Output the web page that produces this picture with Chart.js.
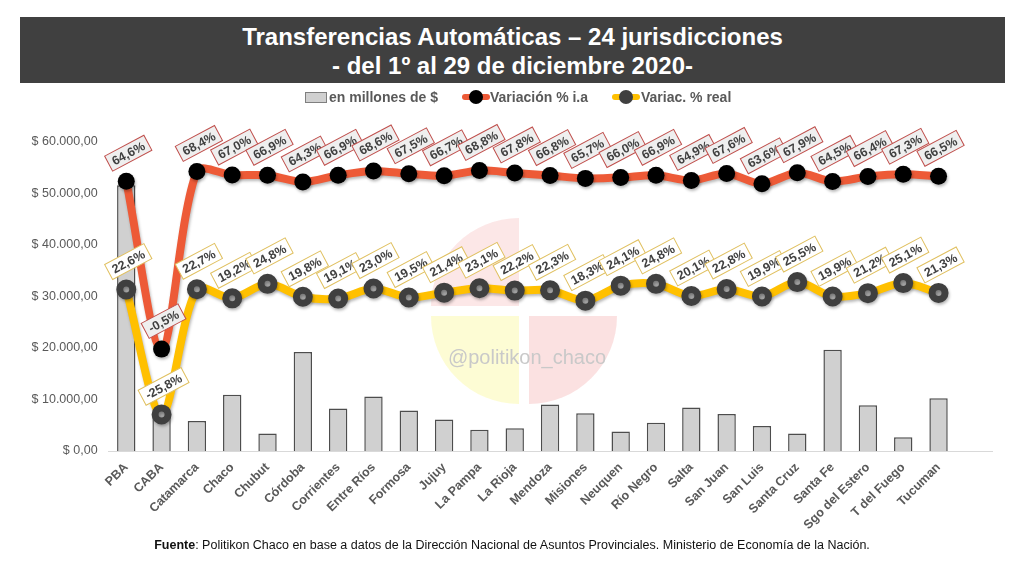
<!DOCTYPE html>
<html><head><meta charset="utf-8">
<script src="https://cdn.jsdelivr.net/npm/chart.js@4.4.0/dist/chart.umd.min.js"></script>
<style>
html,body{margin:0;padding:0;background:#fff;}
#wrap{position:relative;width:1024px;height:576px;overflow:hidden;font-family:"Liberation Sans",Arial,sans-serif;background:#fff;}
#c{position:absolute;left:0;top:0;}
#band{position:absolute;left:20px;top:17px;width:985px;height:66px;background:#404040;}
#title{position:absolute;left:20px;top:22px;width:985px;text-align:center;color:#fff;font-weight:bold;font-size:24px;line-height:29px;}
.lg{position:absolute;top:89px;height:16px;line-height:16px;font-weight:bold;font-size:14px;color:#595959;white-space:nowrap;}
.sw-bar{position:absolute;top:92px;left:305px;width:20px;height:9px;background:#d0d0d0;border:1px solid #7f7f7f;}
.sw-line{position:absolute;top:89px;width:28px;height:16px;}
.sw-line .ln{position:absolute;left:0;top:5px;width:28px;height:6px;border-radius:3px;}
.sw-line .dt{position:absolute;left:7px;top:1px;width:14px;height:14px;border-radius:50%;}
#footer{position:absolute;top:538px;left:0;width:1024px;text-align:center;font-size:12.5px;color:#111;}
</style></head>
<body>
<div id="wrap">
  <div id="band"></div>
  <div id="title">Transferencias Automáticas – 24 jurisdicciones<br>- del 1º al 29 de diciembre 2020-</div>
  <canvas id="c" width="1024" height="576"></canvas>
  <div class="sw-bar"></div><span class="lg" style="left:329px">en millones de $</span>
  <div class="sw-line" style="left:462px"><div class="ln" style="background:#ed5a37"></div><div class="dt" style="background:#000"></div></div><span class="lg" style="left:490px">Variación % i.a</span>
  <div class="sw-line" style="left:612px"><div class="ln" style="background:#ffc000"></div><div class="dt" style="background:#404040"></div></div><span class="lg" style="left:641px">Variac. % real</span>
  <div id="footer"><b>Fuente</b>: Politikon Chaco en base a datos de la Dirección Nacional de Asuntos Provinciales. Ministerio de Economía de la Nación.</div>
</div>
<script>
const categories = ["PBA","CABA","Catamarca","Chaco","Chubut","Córdoba","Corrientes","Entre Ríos","Formosa","Jujuy","La Pampa","La Rioja","Mendoza","Misiones","Neuquen","Río Negro","Salta","San Juan","San Luis","Santa Cruz","Santa Fe","Sgo del Estero","T del Fuego","Tucuman"];
const transfers = [51500,6500,5800,10900,3400,19200,8250,10550,7850,6100,4100,4400,9000,7300,3800,5500,8450,7150,4850,3400,19650,8850,2650,10250];
const nominalVar = [64.6,-0.5,68.4,67.0,66.9,64.3,66.9,68.6,67.5,66.7,68.8,67.8,66.8,65.7,66.0,66.9,64.9,67.6,63.6,67.9,64.5,66.4,67.3,66.5];
const realVar = [22.6,-25.8,22.7,19.2,24.8,19.8,19.1,23.0,19.5,21.4,23.1,22.2,22.3,18.3,24.1,24.8,20.1,22.8,19.9,25.5,19.9,21.2,25.1,21.3];
const yTickValues = [0,10000,20000,30000,40000,50000,60000];

function fmtMoney(v){
  const s = Math.round(v).toString().replace(/\B(?=(\d{3})+(?!\d))/g,'.');
  return '$ ' + s + ',00';
}
function fmtPct(v){ return v.toFixed(1).replace('.',',') + '%'; }

const watermark = {
  id:'watermark',
  beforeDatasetsDraw(chart){
    const ctx = chart.ctx; ctx.save();
    const R = 88;
    ctx.fillStyle = 'rgba(250,215,215,0.6)';
    ctx.beginPath(); ctx.moveTo(519,306); ctx.arc(519,306,R,Math.PI,1.5*Math.PI); ctx.closePath(); ctx.fill();
    ctx.fillStyle = 'rgba(253,251,205,0.85)';
    ctx.beginPath(); ctx.moveTo(519,316); ctx.arc(519,316,R,0.5*Math.PI,Math.PI); ctx.closePath(); ctx.fill();
    ctx.fillStyle = 'rgba(250,215,215,0.75)';
    ctx.beginPath(); ctx.moveTo(529,316); ctx.arc(529,316,R,0,0.5*Math.PI); ctx.closePath(); ctx.fill();
    ctx.fillStyle = '#c9c9c9';
    ctx.font = '20px "Liberation Sans", Arial, sans-serif';
    ctx.textAlign = 'center'; ctx.textBaseline = 'middle';
    ctx.fillText('@politikon_chaco', 527, 358);
    const a = chart.chartArea;
    ctx.strokeStyle = '#d9d9d9'; ctx.lineWidth = 1;
    ctx.beginPath(); ctx.moveTo(a.left, a.bottom+0.5); ctx.lineTo(993, a.bottom+0.5); ctx.stroke();
    ctx.restore();
  }
};

const softShadow = {
  id:'softShadow',
  beforeDatasetDraw(chart, args){
    const ds = chart.data.datasets[args.index];
    if (!ds.boxStyle) return;
    const ctx = chart.ctx; ctx.save();
    ctx.shadowColor = 'rgba(0,0,0,0.28)'; ctx.shadowBlur = 3; ctx.shadowOffsetX = 1; ctx.shadowOffsetY = 2;
  },
  afterDatasetDraw(chart, args){
    const ds = chart.data.datasets[args.index];
    if (!ds.boxStyle) return;
    chart.ctx.restore();
  }
};

const boxLabels = {
  id:'boxLabels',
  afterDatasetsDraw(chart){
    const ctx = chart.ctx;
    chart.data.datasets.forEach((ds, di) => {
      if (!ds.boxStyle) return;
      const meta = chart.getDatasetMeta(di);
      meta.data.forEach((pt, i) => {
        const txt = fmtPct(ds.data[i]);
        ctx.save();
        ctx.translate(pt.x + 2, pt.y - 28);
        ctx.rotate(-28 * Math.PI / 180);
        ctx.font = 'bold 12.5px "Liberation Sans", Arial, sans-serif';
        const w = ctx.measureText(txt).width + 9, h = 17;
        ctx.fillStyle = ds.boxStyle.fill;
        ctx.fillRect(-w/2, -h/2, w, h);
        ctx.strokeStyle = ds.boxStyle.border; ctx.lineWidth = 1;
        ctx.strokeRect(-w/2, -h/2, w, h);
        ctx.fillStyle = '#404040';
        ctx.textAlign = 'center'; ctx.textBaseline = 'middle';
        ctx.fillText(txt, 0, 1);
        ctx.restore();
      });
    });
  }
};

new Chart(document.getElementById('c'), {
  data: {
    labels: categories,
    datasets: [
      { type:'bar', label:'en millones de $', data: transfers, yAxisID:'y', order:3,
        backgroundColor:'#d0d0d0', borderColor:'#4d4d4d', borderWidth:1.5,
        barPercentage:0.52, categoryPercentage:1 },
      { type:'line', label:'Variación % i.a', data: nominalVar, yAxisID:'y1', order:2,
        borderColor:'#ed5a37', borderWidth:8, tension:0.3,
        pointRadius:8.5, pointBackgroundColor:'#000', pointBorderColor:'#000', pointBorderWidth:0,
        boxStyle:{fill:'#efefef', border:'#c0504d'} },
      { type:'line', label:'Variac. % real', data: realVar, yAxisID:'y1', order:1,
        borderColor:'#ffc000', borderWidth:8, tension:0.3,
        pointRadius:6.5, pointBackgroundColor:'#a6a6a6', pointBorderColor:'#3f3f3f', pointBorderWidth:7,
        boxStyle:{fill:'#ffffff', border:'#e0c060'} }
    ]
  },
  options: {
    responsive:false, animation:false, devicePixelRatio:1,
    layout:{ padding:{ top:141.5, left:0, right:67.8, bottom:0 } },
    plugins:{ legend:{display:false}, tooltip:{enabled:false}, title:{display:false} },
    scales:{
      x:{
        grid:{display:false, drawTicks:false},
        border:{display:true, color:'#d9d9d9'},
        ticks:{ color:'#595959', font:{family:'"Liberation Sans", Arial, sans-serif', size:12.5, weight:'bold'},
                maxRotation:45, minRotation:45, autoSkip:false, padding:9 },
        afterFit(s){ s.height = 125; }
      },
      y:{
        position:'left', min:0, max:60000,
        grid:{display:false, drawTicks:false}, border:{display:false},
        afterBuildTicks(s){ s.ticks = yTickValues.map(v => ({value:v})); },
        ticks:{ color:'#595959', font:{family:'"Liberation Sans", Arial, sans-serif', size:12.5}, padding:11,
                callback:(v) => fmtMoney(v) },
        afterFit(s){ s.width = 108.6; }
      },
      y1:{ position:'right', min:-40, max:80, display:false }
    }
  },
  plugins:[watermark, softShadow, boxLabels]
});
</script>
</body></html>
